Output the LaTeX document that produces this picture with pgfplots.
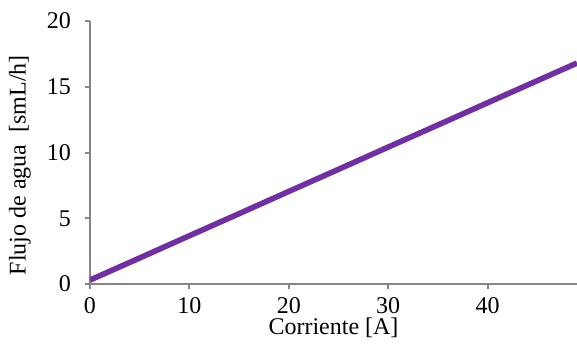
\documentclass[border=0pt]{standalone}
\usepackage{fontspec}
\setmainfont{Liberation Serif}
\usepackage{pgfplots}
\pgfplotsset{compat=1.18}
\definecolor{linepurple}{HTML}{7030A0}
\definecolor{axgray}{HTML}{868686}
\begin{document}
\begin{tikzpicture}[font=\fontsize{12}{14}\selectfont]
\begin{axis}[
  scale only axis,
  width=243.5pt, height=131.5pt,
  xmin=0, xmax=49, ymin=0, ymax=20,
  axis lines=left,
  axis line style={axgray, line width=1pt, -},
  xtick={0,10,20,30,40}, ytick={0,5,10,15,20},
  tick align=outside,
  major tick length=2.5pt,
  tick style={axgray, line width=1pt},
  /pgf/number format/assume math mode=true,
  tick label style={font=\fontsize{12}{14}\selectfont},
  xticklabel style={yshift=-0.5pt},
  yticklabel style={xshift=-3.5pt},
  label style={font=\fontsize{12}{14}\selectfont},
  xlabel={Corriente [A]},
  ylabel={Flujo de agua\ \ [smL/h]},
  xlabel style={at={(axis description cs:0.5,0)}, anchor=center, yshift=-22pt},
  ylabel style={at={(axis description cs:-0.144,0.452)}, anchor=center},
  clip=true,
]
\addplot[linepurple, line width=2.8pt] coordinates {
(0,0.30) (5,1.98) (10,3.67) (15,5.35) (20,7.04) (25,8.72) (30,10.41) (35,12.09) (40,13.78) (45,15.46) (49,16.80)
};
\end{axis}
\pgfresetboundingbox
\path (-45pt,-30pt) rectangle (243.5pt,142pt);
\end{tikzpicture}
\end{document}
